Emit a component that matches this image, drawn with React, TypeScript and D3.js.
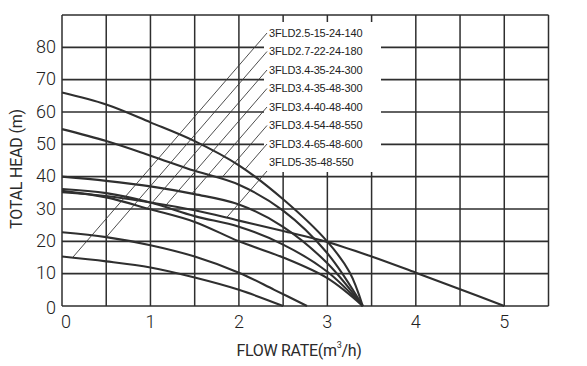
import React from "react";
import * as d3 from "d3";

// ---- Data ----
const modelNames = [
  "3FLD2.5-15-24-140",
  "3FLD2.7-22-24-180",
  "3FLD3.4-35-24-300",
  "3FLD3.4-35-48-300",
  "3FLD3.4-40-48-400",
  "3FLD3.4-54-48-550",
  "3FLD3.4-65-48-600",
  "3FLD5-35-48-550",
];

const flow_25_15 = [0, 0.5, 1, 1.5, 2, 2.5];
const head_25_15 = [15.3, 13.8, 11.9, 8.8, 5.0, 0];

const flow_27_22 = [0, 0.5, 1, 1.5, 2, 2.4, 2.77];
const head_27_22 = [22.8, 21.3, 18.8, 15.3, 10.3, 5.0, 0];

const flow_34_35_24 = [0, 0.5, 1, 1.5, 2, 2.5, 3, 3.4];
const head_34_35_24 = [35.6, 33.6, 29.9, 26.0, 20.0, 15.0, 8.6, 0];

const flow_34_35_48 = [0, 0.5, 1, 1.5, 2, 2.5, 3, 3.4];
const head_34_35_48 = [36.2, 34.9, 32.0, 27.8, 24.5, 19.0, 10.6, 0];

const flow_34_40 = [0, 0.5, 1, 1.5, 2, 2.5, 3, 3.4];
const head_34_40 = [40.0, 38.7, 37.0, 34.6, 31.4, 24.5, 13.2, 0];

const flow_34_54 = [0, 0.5, 1, 1.5, 2, 2.5, 3, 3.4];
const head_34_54 = [54.7, 51.0, 46.5, 41.8, 37.5, 29.5, 16.3, 0];

const flow_34_65 = [0, 0.5, 1, 1.5, 2, 2.5, 3, 3.25, 3.4];
const head_34_65 = [66.0, 62.3, 56.8, 51.0, 43.5, 33.0, 19.9, 10.5, 0];

const flow_5_35 = [0, 0.5, 1, 1.5, 2, 2.5, 3, 3.5, 4, 4.5, 5];
const head_5_35 = [35.2, 34.0, 32.0, 29.6, 26.4, 23.2, 19.8, 15.3, 10.3, 5.2, 0];

const seriesFlows = [flow_25_15, flow_27_22, flow_34_35_24, flow_34_35_48, flow_34_40, flow_34_54, flow_34_65, flow_5_35];
const seriesHeads = [head_25_15, head_27_22, head_34_35_24, head_34_35_48, head_34_40, head_34_54, head_34_65, head_5_35];

const xTicks = [0, 1, 2, 3, 4, 5];
const yTicks = [0, 10, 20, 30, 40, 50, 60, 70, 80];
const xGrid = d3.range(0, 5.51, 0.5);
const yGrid = d3.range(0, 90.1, 10);

// ---- Layout ----
const W = 587;
const H = 366;
const x = d3.scaleLinear().domain([0, 5.5]).range([62, 548.5]);
const y = d3.scaleLinear().domain([0, 90]).range([306, 15]);

const legendX = 269;
const legendY0 = 34;
const legendStep = 18.5;
const box = { x0: 264, x1: 381, y0: 22, y1: 172 };
const leaderSlope = 1.155; // px down per px left
const gridColor = "#2e2e2e";
const curveColor = "#2f2f2f";

function headAt(fl: number[], hd: number[], q: number) {
  for (let i = 0; i < fl.length - 1; i++) {
    if (q >= fl[i] && q <= fl[i + 1]) {
      const t = (q - fl[i]) / (fl[i + 1] - fl[i]);
      return hd[i] + t * (hd[i + 1] - hd[i]);
    }
  }
  return hd[hd.length - 1];
}

function leaderStart(idx: number, ex: number, ey: number) {
  const fl = seriesFlows[idx];
  const hd = seriesHeads[idx];
  const f = (q: number) => {
    const px = x(q);
    const curveY = y(headAt(fl, hd, q));
    const lineY = ey + leaderSlope * (ex - px);
    return curveY - lineY;
  };
  let lo = 0;
  let hi = Math.min(fl[fl.length - 1], x.invert(ex));
  for (let k = 0; k < 60; k++) {
    const mid = (lo + hi) / 2;
    if (f(mid) < 0) lo = mid;
    else hi = mid;
  }
  const q = (lo + hi) / 2;
  return [x(q), y(headAt(fl, hd, q))];
}

export default function App() {
  const line = d3
    .line<[number, number]>()
    .x((d) => x(d[0]))
    .y((d) => y(d[1]))
    .curve(d3.curveCatmullRom.alpha(0.5));

  const font = "Roboto, 'Liberation Sans', Arial, sans-serif";

  return (
    <svg
      width={W}
      height={H}
      viewBox={`0 0 ${W} ${H}`}
      style={{ position: "absolute", left: 0, top: 0, background: "#fff" }}
    >
      <rect x={0} y={0} width={W} height={H} fill="#fff" />
      {/* grid */}
      {xGrid.map((v) => (
        <line key={"gx" + v} x1={x(v)} x2={x(v)} y1={y(0)} y2={y(90)} stroke={gridColor} strokeWidth={1.5} />
      ))}
      {yGrid.map((v) => (
        <line key={"gy" + v} x1={x(0)} x2={x(5.5)} y1={y(v)} y2={y(v)} stroke={gridColor} strokeWidth={1.6} />
      ))}
      {/* legend box background */}
      <rect x={box.x0} y={box.y0} width={box.x1 - box.x0} height={box.y1 - box.y0} fill="#fff" />
      {/* curves */}
      {seriesFlows.map((fl, i) => (
        <path
          key={"c" + i}
          d={line(fl.map((q, j) => [q, seriesHeads[i][j]] as [number, number])) || ""}
          fill="none"
          stroke={curveColor}
          strokeWidth={2.1}
        />
      ))}
      {/* leader lines */}
      {modelNames.map((n, i) => {
        const ey = i === modelNames.length - 1 ? 171 : legendY0 + i * legendStep - 1;
        const ex = 267;
        const [sx, sy] = leaderStart(i, ex, ey);
        return <line key={"l" + i} x1={sx} y1={sy} x2={ex} y2={ey} stroke="#3a3a3a" strokeWidth={0.9} />;
      })}
      {/* legend labels */}
      {modelNames.map((n, i) => (
        <text
          key={"t" + i}
          x={legendX}
          y={legendY0 + i * legendStep}
          dominantBaseline="middle"
          fontFamily="'Liberation Sans', Arial, sans-serif"
          fontSize={11}
          fill="#222"
          letterSpacing={-0.15}
        >
          {n}
        </text>
      ))}
      {/* y tick labels */}
      {yTicks.map((v) => (
        <text
          key={"yt" + v}
          x={56}
          y={y(v) + (v === 0 ? 3 : 1)}
          textAnchor="end"
          dominantBaseline="middle"
          fontFamily={font}
          fontWeight={300}
          fontSize={18}
          fill="#222"
        >
          {v}
        </text>
      ))}
      {/* x tick labels */}
      {xTicks.map((v) => (
        <text
          key={"xt" + v}
          x={x(v) + (v === 0 ? 4 : 0)}
          y={323}
          textAnchor="middle"
          dominantBaseline="middle"
          fontFamily={font}
          fontWeight={300}
          fontSize={18}
          fill="#222"
        >
          {v}
        </text>
      ))}
      {/* axis titles */}
      <text
        x={299}
        y={352}
        textAnchor="middle"
        dominantBaseline="middle"
        fontFamily={font}
        fontSize={16}
        fill="#2a2a2a"
        letterSpacing={-0.3}
      >
        FLOW RATE(m
        <tspan fontSize={9} dy={-6}>
          3
        </tspan>
        <tspan dy={6}>/h)</tspan>
      </text>
      <text
        transform={`translate(18,169) rotate(-90)`}
        textAnchor="middle"
        dominantBaseline="middle"
        fontFamily={font}
        fontSize={16}
        fill="#2a2a2a"
        letterSpacing={-0.2}
      >
        TOTAL HEAD (m)
      </text>
    </svg>
  );
}
